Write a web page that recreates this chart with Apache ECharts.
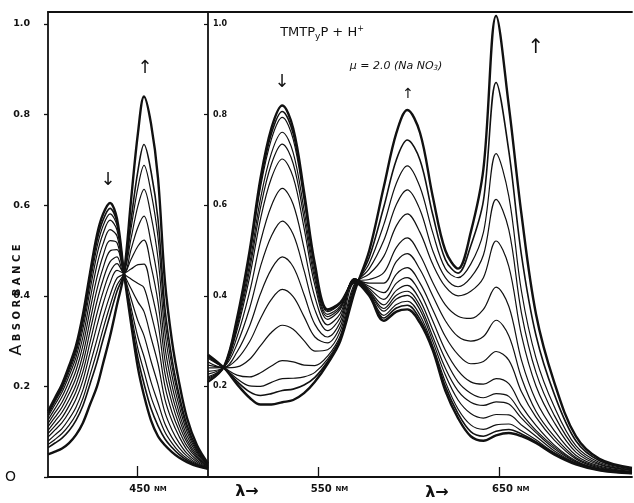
<!DOCTYPE html>
<html>
<head>
<meta charset="utf-8">
<script src="https://cdn.jsdelivr.net/npm/echarts@6/dist/echarts.min.js"></script>
<style>
html, body { margin: 0; padding: 0; background: #fff; }
#chart { width: 634px; height: 503px; }
</style>
</head>
<body>
<div id="chart"></div>
<script>
// Soret region (left panel): wavelengths in nm, one row of absorbances per wavelength,
// one column per scan of the acid titration (first column = free base, last = protonated).
const soretNm = [361, 368, 375, 382, 389, 396, 403, 410, 416, 423, 430, 437, 444, 451, 457, 464, 471, 478, 485, 492, 500, 510, 521];
const soretAbs = [
  [.145,.141,.137,.133,.126,.118,.111,.103,.096,.088,.079,.072,.065,.05],
  [.175,.17,.166,.16,.151,.142,.132,.123,.113,.104,.093,.083,.075,.056],
  [.205,.199,.194,.187,.177,.165,.154,.143,.131,.12,.107,.096,.086,.063],
  [.245,.238,.231,.223,.211,.197,.184,.17,.157,.143,.128,.114,.102,.075],
  [.29,.282,.274,.264,.251,.235,.219,.203,.188,.172,.154,.138,.125,.093],
  [.36,.35,.34,.328,.31,.291,.271,.252,.233,.214,.193,.174,.158,.12],
  [.45,.439,.427,.412,.391,.368,.344,.321,.297,.274,.248,.225,.205,.16],
  [.535,.522,.508,.491,.468,.441,.414,.388,.361,.334,.304,.277,.254,.20],
  [.58,.567,.554,.537,.514,.488,.461,.435,.408,.382,.352,.326,.303,.25],
  [.605,.593,.581,.567,.546,.522,.499,.475,.452,.428,.401,.378,.357,.31],
  [.57,.562,.555,.545,.532,.517,.502,.486,.471,.456,.439,.424,.41,.38],
  [.45,.45,.45,.45,.45,.45,.45,.45,.45,.45,.45,.45,.45,.45],
  [.34,.351,.362,.375,.394,.416,.437,.459,.48,.502,.526,.548,.567,.61],
  [.24,.261,.282,.308,.344,.386,.427,.469,.51,.552,.599,.64,.677,.76],
  [.18,.206,.233,.266,.312,.365,.418,.47,.523,.576,.635,.688,.734,.84],
  [.125,.151,.177,.21,.256,.308,.361,.413,.466,.518,.577,.629,.675,.78],
  [.09,.113,.136,.164,.204,.25,.295,.341,.386,.432,.483,.529,.569,.66],
  [.07,.084,.099,.117,.142,.171,.2,.228,.257,.286,.318,.347,.372,.43],
  [.055,.065,.075,.087,.104,.124,.143,.163,.182,.202,.224,.244,.261,.30],
  [.043,.05,.056,.065,.076,.09,.103,.116,.13,.143,.158,.172,.183,.21],
  [.033,.037,.041,.046,.052,.06,.068,.076,.083,.091,.1,.108,.115,.13],
  [.024,.026,.028,.03,.033,.037,.041,.044,.048,.052,.056,.059,.063,.07],
  [.018,.018,.019,.02,.02,.021,.022,.023,.024,.025,.026,.027,.028,.03]
];

// Visible (Q-band) region (right panel), same layout: one row per wavelength.
const visibleNm = [489, 498, 505, 512, 518, 524, 530, 536, 542, 548, 555, 562, 570, 578, 586, 593, 599, 606, 613, 620, 627, 634, 641, 648, 655, 662, 670, 680, 692, 705, 723];
const visibleAbs = [
  [.21,.21,.21,.215,.218,.221,.227,.233,.241,.247,.254,.262,.265,.268,.27],
  [.245,.245,.245,.245,.244,.244,.244,.243,.242,.242,.241,.241,.240,.240,.240],
  [.35,.347,.344,.337,.331,.324,.309,.293,.276,.26,.243,.225,.217,.211,.205],
  [.50,.494,.487,.471,.458,.442,.409,.373,.334,.299,.26,.221,.201,.188,.175],
  [.66,.65,.64,.615,.595,.57,.52,.465,.405,.35,.29,.23,.20,.18,.16],
  [.77,.758,.746,.715,.691,.66,.599,.532,.459,.392,.319,.245,.209,.184,.16],
  [.82,.807,.794,.761,.735,.702,.637,.565,.486,.414,.335,.257,.217,.191,.165],
  [.77,.758,.746,.716,.692,.662,.602,.536,.464,.398,.326,.254,.218,.194,.17],
  [.63,.621,.612,.59,.572,.55,.505,.456,.403,.354,.301,.247,.221,.203,.185],
  [.47,.465,.46,.447,.436,.423,.397,.369,.337,.309,.278,.246,.231,.22,.21],
  [.37,.368,.365,.359,.354,.348,.336,.323,.309,.296,.281,.267,.26,.255,.25],
  [.385,.383,.382,.377,.374,.37,.361,.352,.342,.332,.322,.312,.307,.303,.30],
  [.43,.432,.434,.436,.437,.438,.438,.437,.435,.432,.428,.424,.42,.415,.41],
  [.40,.402,.404,.407,.409,.412,.416,.421,.428,.436,.448,.46,.472,.485,.50],
  [.345,.351,.357,.366,.372,.38,.392,.407,.428,.451,.487,.522,.557,.596,.64],
  [.365,.373,.381,.393,.401,.412,.428,.448,.476,.507,.555,.602,.649,.701,.76],
  [.37,.379,.388,.401,.41,.423,.44,.462,.493,.528,.581,.634,.687,.744,.81],
  [.34,.348,.357,.369,.378,.39,.407,.428,.458,.49,.54,.59,.64,.70,.76],
  [.28,.285,.29,.30,.31,.325,.345,.37,.40,.43,.47,.50,.54,.58,.62],
  [.19,.20,.21,.225,.24,.26,.28,.31,.345,.38,.42,.44,.46,.48,.50],
  [.13,.14,.15,.17,.19,.21,.235,.27,.31,.355,.40,.42,.44,.45,.46],
  [.09,.10,.115,.14,.165,.185,.21,.25,.30,.35,.41,.44,.47,.51,.54],
  [.08,.09,.105,.13,.158,.175,.205,.255,.31,.37,.44,.49,.54,.61,.68],
  [.092,.101,.115,.138,.166,.184,.217,.277,.346,.419,.521,.613,.714,.871,1.018],
  [.097,.105,.117,.137,.161,.178,.206,.258,.312,.377,.465,.546,.62,.72,.82],
  [.09,.095,.102,.115,.13,.14,.157,.188,.219,.258,.313,.362,.41,.49,.58],
  [.075,.078,.082,.09,.098,.103,.114,.132,.145,.169,.201,.231,.263,.313,.36],
  [.05,.052,.054,.058,.063,.067,.071,.082,.09,.103,.121,.137,.156,.184,.21],
  [.028,.029,.03,.031,.033,.034,.036,.04,.043,.048,.055,.062,.069,.08,.09],
  [.015,.015,.016,.016,.017,.018,.018,.02,.022,.024,.027,.029,.032,.036,.04],
  [.008,.008,.008,.009,.009,.009,.01,.01,.011,.012,.014,.015,.016,.018,.02]
];

// Axis ranges and tick positions
const soretRange = [361, 521];
const visibleRange = [489, 723];
const absRange = [0, 1.0265];
const absTicks = [0, 0.2, 0.4, 0.6, 0.8, 1.0];
const absTicksRight = [0.2, 0.4, 0.6, 0.8, 1.0];
const soretTicks = [450];
const visibleTicks = [550, 650];

const INK = '#111';
const FONT = 'DejaVu Sans';

function scanSeries(nm, rows, xIndex, yIndex) {
  const count = rows[0].length;
  const out = [];
  for (let s = 0; s < count; s++) {
    const edge = s === 0 || s === count - 1;
    const near = s === 1 || s === count - 2;
    out.push({
      type: 'line',
      xAxisIndex: xIndex,
      yAxisIndex: yIndex,
      data: nm.map((w, i) => [w, rows[i][s]]),
      smooth: 0.35,
      symbol: 'none',
      showSymbol: false,
      silent: true,
      clip: true,
      z: edge ? 4 : 3,
      lineStyle: { color: INK, width: edge ? 2.4 : (near ? 1.6 : 1.2) }
    });
  }
  return out;
}

const frameLine = { show: true, lineStyle: { color: INK, width: 1.8 } };
const nmLabel = {
  fontFamily: FONT,
  color: INK,
  margin: 6,
  padding: [0, 0, 0, 22],
  formatter: v => `{n|${v}} {u|NM}`,
  rich: {
    n: { fontSize: 10, fontWeight: 'bold', fontFamily: FONT, color: INK },
    u: { fontSize: 7, fontWeight: 'bold', fontFamily: FONT, color: INK }
  }
};

const chart = echarts.init(document.getElementById('chart'), null, { renderer: 'canvas' });

chart.setOption({
  animation: false,
  backgroundColor: '#fff',
  grid: [
    { left: 48, top: 12, width: 160, height: 465 },
    { left: 208, top: 12, width: 424, height: 465 }
  ],
  xAxis: [
    {
      gridIndex: 0, type: 'value', min: soretRange[0], max: soretRange[1], position: 'bottom',
      axisLine: frameLine, splitLine: { show: false },
      axisTick: { show: true, inside: true, length: 11, customValues: soretTicks, lineStyle: { color: INK, width: 1.3 } },
      axisLabel: Object.assign({ customValues: soretTicks }, nmLabel)
    },
    {
      gridIndex: 0, type: 'value', min: soretRange[0], max: soretRange[1], position: 'top',
      axisLine: frameLine, axisTick: { show: false }, axisLabel: { show: false }, splitLine: { show: false }
    },
    {
      gridIndex: 1, type: 'value', min: visibleRange[0], max: visibleRange[1], position: 'bottom',
      axisLine: frameLine, splitLine: { show: false },
      axisTick: { show: true, inside: true, length: 10, customValues: visibleTicks, lineStyle: { color: INK, width: 1.3 } },
      axisLabel: Object.assign({ customValues: visibleTicks }, nmLabel)
    },
    {
      gridIndex: 1, type: 'value', min: visibleRange[0], max: visibleRange[1], position: 'top',
      axisLine: frameLine, axisTick: { show: false }, axisLabel: { show: false }, splitLine: { show: false }
    }
  ],
  yAxis: [
    {
      gridIndex: 0, type: 'value', min: absRange[0], max: absRange[1], position: 'left',
      axisLine: frameLine, splitLine: { show: false },
      axisTick: { show: true, inside: false, length: 4, customValues: absTicks, lineStyle: { color: INK, width: 1.3 } },
      axisLabel: {
        customValues: absTicks, margin: 18, color: INK, fontFamily: FONT,
        formatter: v => v === 0 ? '{z|O}' : `{t|${v.toFixed(1)}}`,
        rich: {
          t: { fontSize: 9.5, fontWeight: 'bold', fontFamily: FONT, color: INK },
          z: { fontSize: 14, fontFamily: FONT, color: INK, padding: [0, 14, 0, 0] }
        }
      }
    },
    {
      gridIndex: 1, type: 'value', min: absRange[0], max: absRange[1], position: 'left',
      axisLine: frameLine, splitLine: { show: false },
      axisTick: { show: true, inside: false, length: 4, customValues: absTicksRight, lineStyle: { color: INK, width: 1.2 } },
      axisLabel: {
        customValues: absTicksRight, inside: true, margin: 5, color: INK, fontFamily: FONT,
        fontSize: 8, fontWeight: 'bold',
        formatter: v => v.toFixed(1)
      }
    }
  ],
  graphic: [
    {
      type: 'text', x: 17, y: 300, rotation: Math.PI / 2,
      style: {
        text: '{a|A} {b|B S O R B A N C E}', align: 'center', verticalAlign: 'middle',
        rich: {
          a: { fontSize: 16, fontFamily: FONT, fill: INK },
          b: { fontSize: 10, fontWeight: 'bold', fontFamily: FONT, fill: INK }
        }
      }
    },
    {
      type: 'text', x: 322, y: 33,
      style: {
        text: 'TMTP{s|y}P + H{p|+}', align: 'center', verticalAlign: 'middle',
        font: '13px "DejaVu Sans"', fill: INK,
        rich: {
          s: { fontSize: 9, fontFamily: FONT, fill: INK, padding: [8, 0, 0, 0] },
          p: { fontSize: 8, fontFamily: FONT, fill: INK, padding: [0, 0, 8, 0] }
        }
      }
    },
    {
      type: 'text', x: 396, y: 66,
      style: {
        text: 'μ = 2.0 (Na NO{s|3})', align: 'center', verticalAlign: 'middle',
        font: 'italic 11px "DejaVu Sans"', fill: INK,
        rich: { s: { fontSize: 7, fontStyle: 'italic', fontFamily: FONT, fill: INK, padding: [5, 0, 0, 0] } }
      }
    },
    { type: 'text', x: 108, y: 180, style: { text: '↓', align: 'center', verticalAlign: 'middle', font: '18px "DejaVu Sans"', fill: INK } },
    { type: 'text', x: 145, y: 68, style: { text: '↑', align: 'center', verticalAlign: 'middle', font: '18px "DejaVu Sans"', fill: INK } },
    { type: 'text', x: 282, y: 82, style: { text: '↓', align: 'center', verticalAlign: 'middle', font: '18px "DejaVu Sans"', fill: INK } },
    { type: 'text', x: 408, y: 94, style: { text: '↑', align: 'center', verticalAlign: 'middle', font: '14px "DejaVu Sans"', fill: INK } },
    { type: 'text', x: 536, y: 48, style: { text: '↑', align: 'center', verticalAlign: 'middle', font: '20px "DejaVu Sans"', fill: INK } },
    { type: 'text', x: 247, y: 492, style: { text: 'λ→', align: 'center', verticalAlign: 'middle', font: 'bold 16px "DejaVu Sans"', fill: INK } },
    { type: 'text', x: 437, y: 493, style: { text: 'λ→', align: 'center', verticalAlign: 'middle', font: 'bold 16px "DejaVu Sans"', fill: INK } }
  ],
  series: [].concat(
    scanSeries(soretNm, soretAbs, 0, 0),
    scanSeries(visibleNm, visibleAbs, 2, 1)
  )
});
</script>
</body>
</html>
